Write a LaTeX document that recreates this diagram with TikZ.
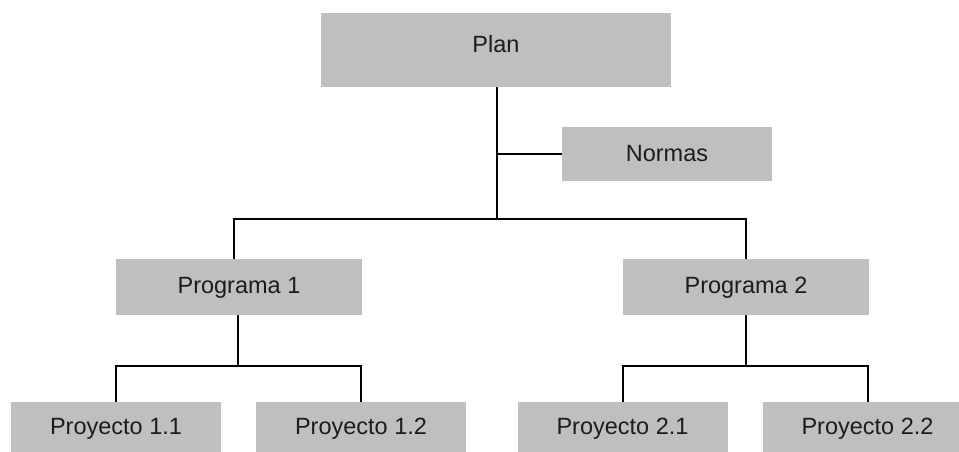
\documentclass[tikz,border=0pt]{standalone}
\usepackage{fontspec}
\setmainfont{Liberation Sans}
\definecolor{boxgray}{HTML}{BFBFBF}
\definecolor{txt}{HTML}{1C1C1C}
\begin{document}
\begin{tikzpicture}[x=1pt,y=-1pt,
  box/.style={rectangle, fill=boxgray, draw=none, inner sep=0pt, text=txt,
    font=\fontsize{23.5}{28}\selectfont, text height=16.8pt, text depth=6pt},
  link/.style={draw=black, line width=2pt, line join=miter}]
\useasboundingbox (0,0) rectangle (959,451);
\clip (0,0) rectangle (959,451);
\node[box, minimum width=350pt, minimum height=74pt, text depth=11pt] (plan) at (496,50) {Plan};
\node[box, minimum width=210pt, minimum height=54pt, text depth=2pt] (normas) at (667,154) {Normas};
\node[box, minimum width=246pt, minimum height=56pt, text depth=4pt] (p1) at (239,287) {Programa 1};
\node[box, minimum width=246pt, minimum height=56pt, text depth=4pt] (p2) at (746,287) {Programa 2};
\node[box, minimum width=210pt, minimum height=54pt] (y11) at (116,429) {Proyecto 1.1};
\node[box, minimum width=210pt, minimum height=54pt] (y12) at (361,429) {Proyecto 1.2};
\node[box, minimum width=210pt, minimum height=54pt] (y21) at (622.5,429) {Proyecto 2.1};
\node[box, minimum width=210pt, minimum height=54pt] (y22) at (867.5,429) {Proyecto 2.2};
\coordinate (bus) at (497,219);
\coordinate (b1) at (238,366);
\coordinate (b2) at (746,366);
\draw[link] ([xshift=1pt]plan.south) -- (bus);
\draw[link] ([xshift=1pt]plan.south) |- (normas.west);
\draw[link] ([xshift=-5pt]p1.north) |- (bus) -| (p2.north);
\draw[link] ([xshift=-1pt]p1.south) -- (b1);
\draw[link] (y11.north) |- (b1) -| (y12.north);
\draw[link] (p2.south) -- (b2);
\draw[link] (y21.north) |- (b2) -| (y22.north);
\end{tikzpicture}
\end{document}
